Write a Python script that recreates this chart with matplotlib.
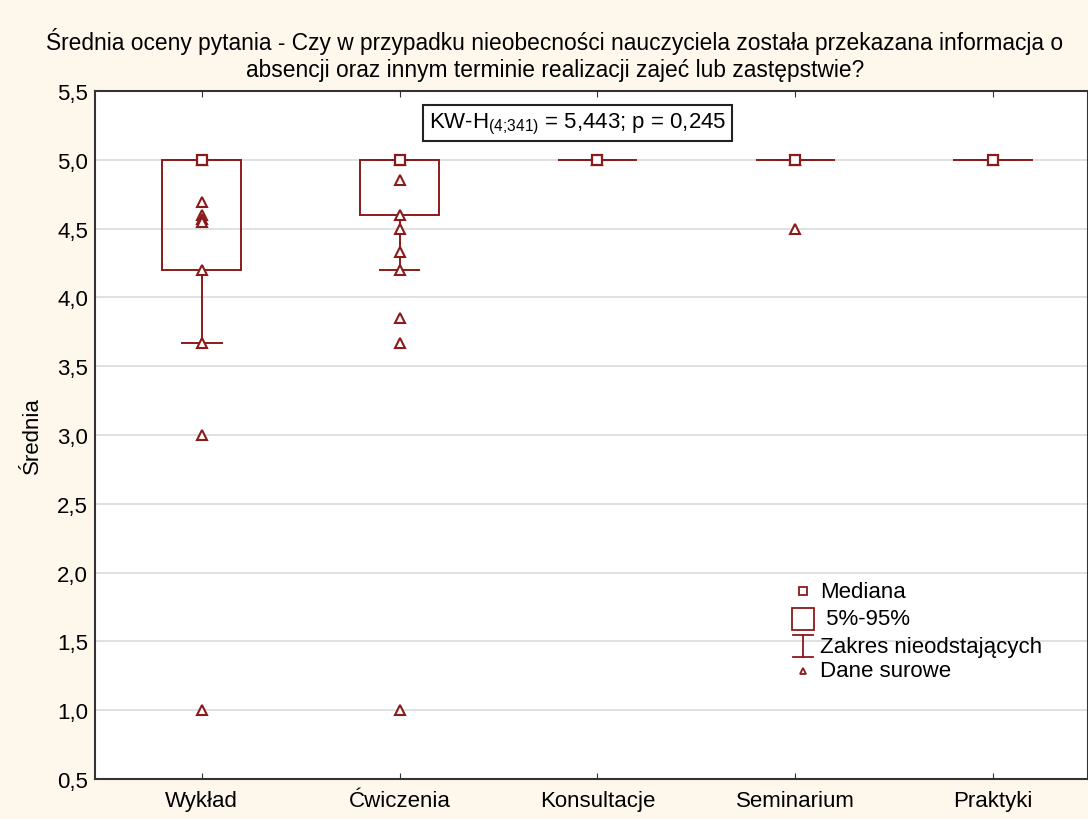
import numpy as np
import matplotlib
matplotlib.use("Agg")
import matplotlib.pyplot as plt
from matplotlib.patches import Rectangle

plt.rcParams['font.family'] = ['Liberation Sans', 'DejaVu Sans']
plt.rcParams['mathtext.fontset'] = 'custom'
plt.rcParams['mathtext.rm'] = 'Liberation Sans'

# dane
categories = ['Wykład', 'Ćwiczenia', 'Konsultacje', 'Seminarium', 'Praktyki']
medians = [5.0, 5.0, 5.0, 5.0, 5.0]
p05 = [4.2, 4.6, 5.0, 5.0, 5.0]
p95 = [5.0, 5.0, 5.0, 5.0, 5.0]
whisk_low = [3.67, 4.2, 5.0, 5.0, 5.0]
whisk_high = [5.0, 5.0, 5.0, 5.0, 5.0]
raw = [
    [5.0, 4.69, 4.6, 4.57, 4.55, 4.2, 3.67, 3.0, 1.0],
    [5.0, 4.85, 4.6, 4.5, 4.33, 4.2, 3.85, 3.67, 1.0],
    [5.0],
    [5.0, 4.5],
    [5.0],
]
yticks = [0.5, 1.0, 1.5, 2.0, 2.5, 3.0, 3.5, 4.0, 4.5, 5.0, 5.5]

col = '#8b1a1a'
bg = '#fef8ec'
fs = 16

fig = plt.figure(figsize=(10.88, 8.2), dpi=100, facecolor=bg)
ax = fig.add_axes([0.0873, 0.0488, 0.9127, 0.839])
ax.set_facecolor('white')

x = np.arange(1, len(categories) + 1)
bw = 0.2
cw = 0.1
for i, xi in enumerate(x):
    ax.add_patch(Rectangle((xi - bw, p05[i]), 2 * bw, p95[i] - p05[i],
                           fill=False, edgecolor=col, lw=1.4, zorder=3))
    ax.plot([xi, xi], [whisk_low[i], p05[i]], color=col, lw=1.4, zorder=3)
    ax.plot([xi, xi], [p95[i], whisk_high[i]], color=col, lw=1.4, zorder=3)
    ax.plot([xi - cw, xi + cw], [whisk_low[i]] * 2, color=col, lw=1.4, zorder=3)
    ax.plot([xi - cw, xi + cw], [whisk_high[i]] * 2, color=col, lw=1.4, zorder=3)
    ax.plot([xi] * len(raw[i]), raw[i], linestyle='none', marker='^', ms=7,
            mfc='white', mec=col, mew=1.5, zorder=4)
    ax.plot(xi, medians[i], linestyle='none', marker='s', ms=7,
            mfc='white', mec=col, mew=1.6, zorder=5)

ax.set_xlim(0.46, 5.48)
ax.set_ylim(0.5, 5.5)
ax.set_xticks(x)
ax.set_xticklabels(categories, fontsize=fs)
ax.set_yticks(yticks)
ax.set_yticklabels([f'{v:.1f}'.replace('.', ',') for v in yticks], fontsize=fs)
ax.tick_params(axis='x', direction='in', length=4, top=True, color='#333333', pad=8)
ax.tick_params(axis='y', direction='in', length=0, pad=5)
ax.grid(axis='y', color='#dcdcdc', lw=1.2, zorder=0)
ax.set_axisbelow(True)
for s in ax.spines.values():
    s.set_color('#333333')
    s.set_linewidth(1.5)

ax.set_ylabel('Średnia', fontsize=fs, labelpad=10)
fig.text(0.51, 0.933, 'Średnia oceny pytania - Czy w przypadku nieobecności nauczyciela została przekazana informacja o\n'
         'absencji oraz innym terminie realizacji zajeć lub zastępstwie?',
         ha='center', va='center', fontsize=16.4, linespacing=1.2)

ax.text(0.486, 0.953, 'KW-H$_{\\mathregular{(4\u037e341)}}$ = 5,443; p = 0,245', transform=ax.transAxes,
        ha='center', va='center', fontsize=fs,
        bbox=dict(boxstyle='square,pad=0.25', fc='white', ec='#222222', lw=1.5))

# legenda
lx = 0.713
tx = 0.73
ax.plot(lx, 0.273, transform=ax.transAxes, marker='s', ms=6, mfc='white', mec=col, mew=1.3, clip_on=False)
ax.plot(lx, 0.2326, transform=ax.transAxes, marker='s', ms=16, mfc='white', mec=col, mew=1.3, clip_on=False)
ax.plot([lx, lx], [0.177, 0.21], transform=ax.transAxes, color=col, lw=1.3)
ax.plot([lx - 0.01, lx + 0.01], [0.21, 0.21], transform=ax.transAxes, color=col, lw=1.3)
ax.plot([lx - 0.01, lx + 0.01], [0.177, 0.177], transform=ax.transAxes, color=col, lw=1.3)
ax.plot(lx, 0.157, transform=ax.transAxes, marker='^', ms=5, mfc='white', mec=col, mew=1.3)
for ty, lab in zip([0.273, 0.2326, 0.193, 0.157], ['Mediana', ' 5%-95%', 'Zakres nieodstających', 'Dane surowe']):
    ax.text(tx, ty, lab, transform=ax.transAxes, ha='left', va='center', fontsize=fs)

plt.savefig('out.png', dpi=100, facecolor=bg)
